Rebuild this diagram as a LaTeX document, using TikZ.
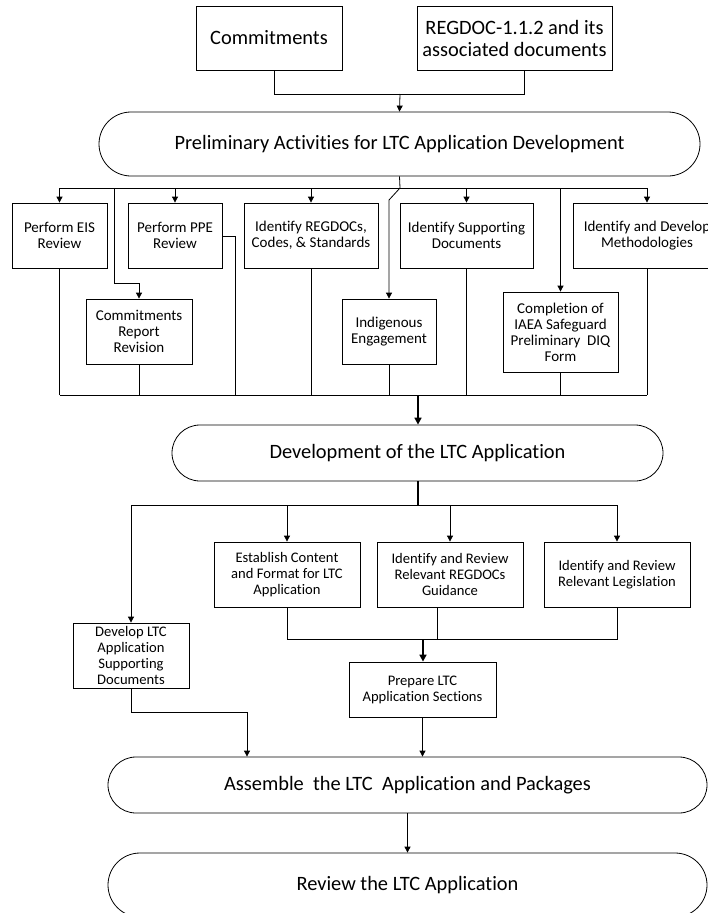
\documentclass[tikz,border=0pt]{standalone}
\usepackage{fontspec}
\setmainfont[Ligatures=NoCommon]{Carlito}
\usetikzlibrary{arrows.meta,calc}
\begin{document}
\begin{tikzpicture}[x=1pt,y=-1pt,
  line width=0.8pt,
  tbox/.style={draw, rectangle, inner sep=0pt, align=center, font=\fontsize{20.4}{22}\selectfont},
  sbox/.style={draw, rectangle, inner sep=0pt, align=center, font=\fontsize{15}{16}\selectfont},
  bbox/.style={draw, rectangle, inner sep=0pt, align=center, font=\fontsize{14.6}{16}\selectfont},
  pill/.style={draw, rectangle, inner sep=0pt, align=center, font=\fontsize{20.4}{22}\selectfont},
  arr/.style={-{Triangle[length=6pt,width=6pt]}},
  tarr/.style={line width=1.6pt,-{Triangle[length=7pt,width=7pt]}},
  thk/.style={line width=1.6pt}
]
\useasboundingbox (0,0) rectangle (707,913);

% top
\node[tbox, minimum width=146pt, minimum height=64pt] (comm) at (269,38) {Commitments};
\node[tbox, minimum width=195pt, minimum height=64pt] (regdoc) at (514.5,38) {REGDOC-1.1.2 and its\\associated documents};
\node[pill, rounded corners=32pt, minimum width=601pt, minimum height=64pt] (prelim) at (399.5,144) {Preliminary Activities for LTC Application Development};

% middle row
\node[sbox, minimum width=95pt, minimum height=65pt] (eis) at (59.5,235.5) {Perform EIS\\Review};
\node[sbox, minimum width=94pt, minimum height=65pt] (ppe) at (175,235.5) {Perform PPE\\Review};
\node[sbox, minimum width=134pt, minimum height=65pt] (regs) at (311,235.5) {Identify REGDOCs,\\Codes, \& Standards};
\node[sbox, minimum width=133pt, minimum height=65pt] (supp) at (466.5,235.5) {Identify Supporting\\Documents};
\node[sbox, minimum width=148pt, minimum height=65pt] (meth) at (647,235.5) {Identify and Develop\\Methodologies};
\node[sbox, minimum width=106pt, minimum height=65pt] (crr) at (139,331.5) {Commitments\\Report\\Revision};
\node[sbox, minimum width=94pt, minimum height=65pt] (indig) at (389,331.5) {Indigenous\\Engagement};
\node[sbox, minimum width=115pt, minimum height=80pt] (iaea) at (560.5,332) {Completion of\\IAEA Safeguard\\Preliminary\ \ DIQ\\Form};

\node[pill, rounded corners=28pt, minimum width=491pt, minimum height=56pt] (dev) at (417.5,453) {Development of the LTC Application};

% lower
\node[bbox, minimum width=146pt, minimum height=65pt] (estab) at (287,574.5) {Establish Content\\and Format for LTC\\Application};
\node[bbox, minimum width=146pt, minimum height=65pt] (guid) at (450,574.5) {Identify and Review\\Relevant REGDOCs\\Guidance};
\node[bbox, minimum width=146pt, minimum height=65pt] (legis) at (617,574.5) {Identify and Review\\Relevant Legislation};
\node[bbox, minimum width=116pt, minimum height=65pt] (devlop) at (131,655.5) {Develop LTC\\Application\\Supporting\\Documents};
\node[bbox, minimum width=147pt, minimum height=55pt] (prep) at (422.5,689.5) {Prepare LTC\\Application Sections};

\node[pill, rounded corners=28pt, minimum width=599pt, minimum height=56pt] (asm) at (407.5,785) {Assemble\ \ the LTC\ \ Application and Packages};
\node[pill, rounded corners=32pt, minimum width=599pt, minimum height=64pt] (rev) at (407.5,885) {Review the LTC Application};

% coordinates
\coordinate (j1) at (400,94);
\coordinate (b1) at (400,188);
\coordinate (c1) at (114,188);
\coordinate (c2) at (139,283);
\coordinate (d1) at (389,200);
\coordinate (p1) at (235,236);
\coordinate (b2) at (418,395);
\coordinate (b3) at (418,505);
\coordinate (b4) at (423,639);
\coordinate (g1) at (437,639);
\coordinate (e1) at (247,712);

% top connectors
\draw ([xshift=5pt]comm.south) |- (j1);
\draw ([xshift=9.5pt]regdoc.south) |- (j1);
\draw[arr] (j1) -- (prelim.north);

% bus 1
\draw (prelim.south) -- (b1);
\draw (eis.north |- b1) -- (meth.north |- b1);
\draw[arr] (eis.north |- b1) -- (eis.north);
\draw[arr] (ppe.north |- b1) -- (ppe.north);
\draw[arr] (regs.north |- b1) -- (regs.north);
\draw[arr] (supp.north |- b1) -- (supp.north);
\draw[arr] (meth.north |- b1) -- (meth.north);
\draw[arr] (iaea.north |- b1) -- (iaea.north);
\draw[arr] (c1) |- (c2) -- (crr.north);
\draw[arr] (b1) -- (d1) -- (indig.north);

% bus 2
\draw (eis.south |- b2) -- (meth.south |- b2);
\draw (eis.south) -- (eis.south |- b2);
\draw (crr.south) -- (crr.south |- b2);
\draw (ppe.east |- p1) -| (p1 |- b2);
\draw (regs.south) -- (regs.south |- b2);
\draw (indig.south) -- (indig.south |- b2);
\draw (supp.south) -- (supp.south |- b2);
\draw (iaea.south) -- (iaea.south |- b2);
\draw (meth.south) -- (meth.south |- b2);
\draw[tarr] (b2) -- (dev.north -| b2);

% bus 3
\draw[thk] (dev.south -| b3) -- (b3);
\draw (devlop.north |- b3) -- (legis.north |- b3);
\draw[arr] (devlop.north |- b3) -- (devlop.north);
\draw[arr] (estab.north |- b3) -- (estab.north);
\draw[arr] (guid.north |- b3) -- (guid.north);
\draw[arr] (legis.north |- b3) -- (legis.north);

% bus 4
\draw (estab.south) |- (legis.south |- b4) -- (legis.south);
\draw (guid.south -| g1) -- (g1) -- (b4);
\draw[tarr] (b4) -- (prep.north -| b4);

% to assemble
\draw[arr] (devlop.south) |- (e1) -- (asm.north -| e1);
\draw[arr] (prep.south) -- (prep.south |- asm.north);
\draw[arr] (asm.south) -- (rev.north);
\end{tikzpicture}
\end{document}
